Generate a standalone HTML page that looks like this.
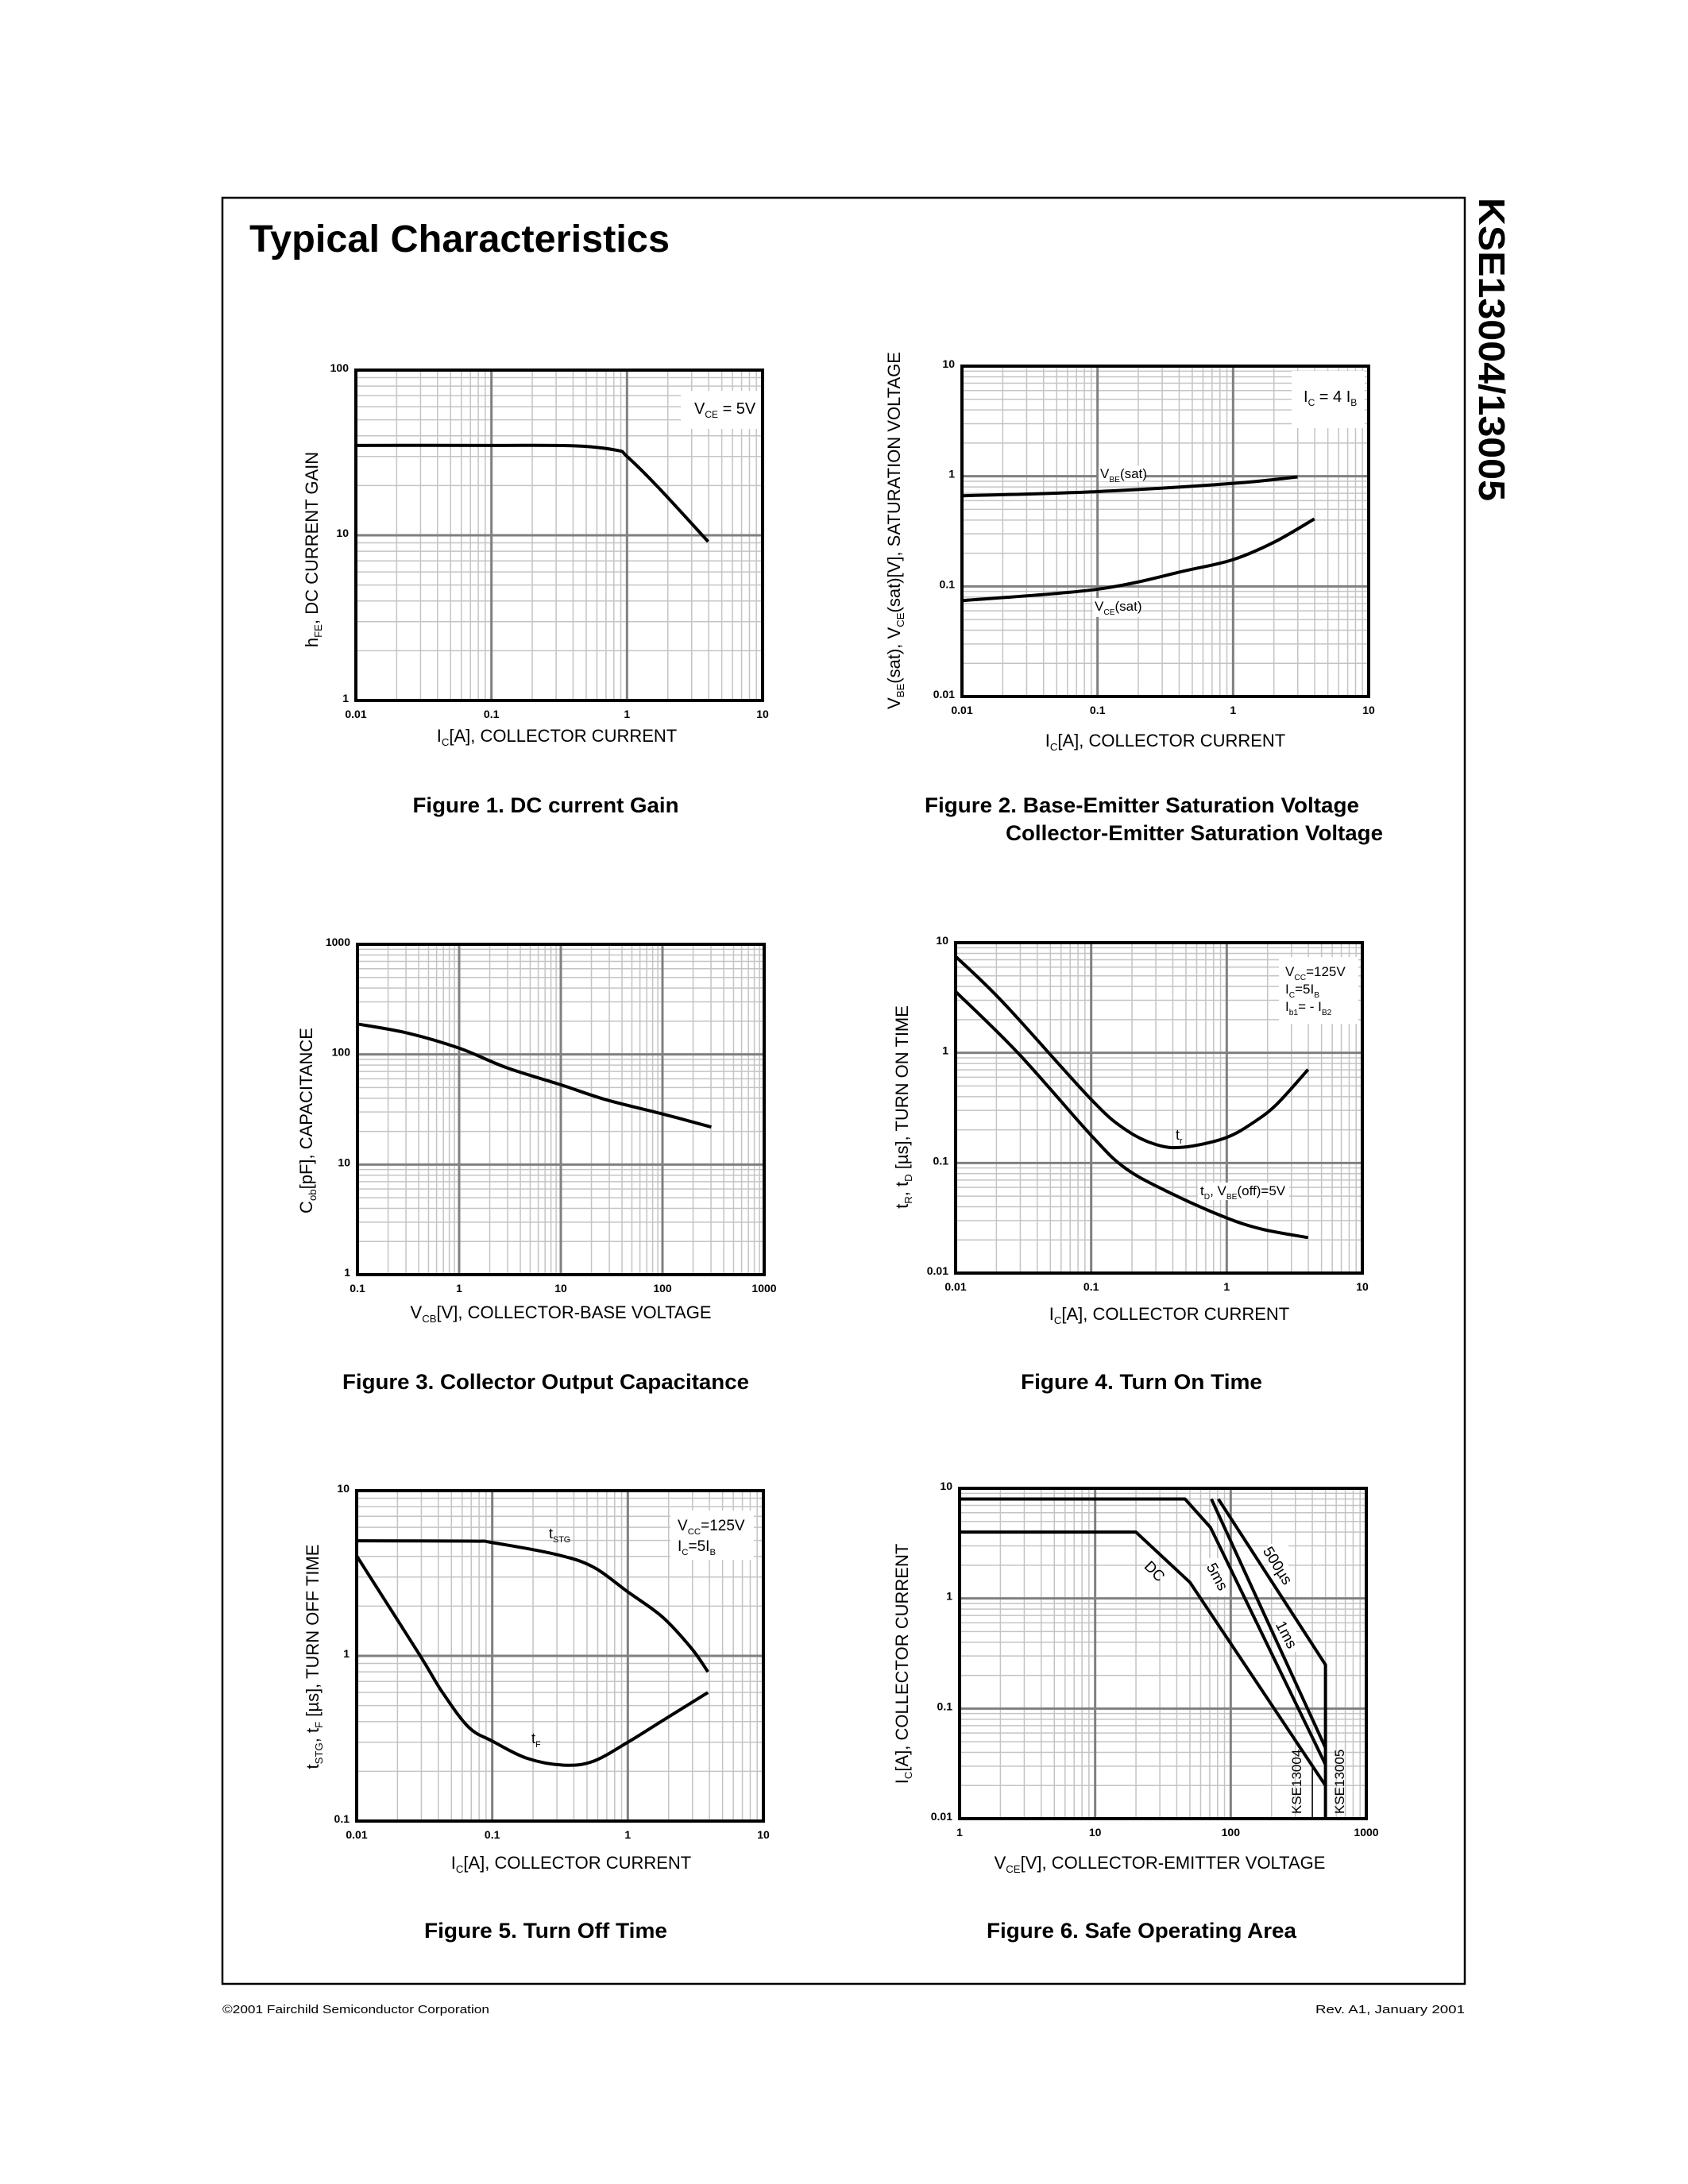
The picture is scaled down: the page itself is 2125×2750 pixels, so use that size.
<!DOCTYPE html>
<html><head><meta charset="utf-8"><style>
html,body{margin:0;padding:0;background:#fff;}
svg{display:block;font-family:"Liberation Sans",sans-serif;}
</style></head><body>
<svg id="page" width="2125" height="2750" viewBox="0 0 2125 2750" xmlns="http://www.w3.org/2000/svg">
<rect x="0" y="0" width="2125" height="2750" fill="#fff"/>
<rect x="280" y="249" width="1564" height="2249" fill="none" stroke="#000" stroke-width="2.5"/>
<text x="314" y="317" font-size="48" font-weight="bold" textLength="529" lengthAdjust="spacingAndGlyphs">Typical Characteristics</text>
<text transform="translate(1862,249) rotate(90)" font-size="46" font-weight="bold" font-family="Liberation Sans, sans-serif" textLength="382" lengthAdjust="spacingAndGlyphs">KSE13004/13005</text>
<text x="280" y="2535" font-size="15" textLength="336" lengthAdjust="spacingAndGlyphs">©2001 Fairchild Semiconductor Corporation</text>
<text x="1844" y="2535" font-size="15" text-anchor="end" textLength="188" lengthAdjust="spacingAndGlyphs">Rev. A1, January 2001</text>
<g id="charts"></g>
</svg>
<script>
// ---------- Chart data ----------
// Fig 1: DC current gain
const f1Ic = [0.01, 0.1, 0.41, 0.84, 1.0, 1.71, 3.97];
const f1Hfe = [35, 35, 34.8, 32.7, 30, 19.4, 9.15];
const f1XTicks = ['0.01','0.1','1','10'];
const f1YTicks = ['1','10','100'];
// Fig 2: saturation voltages
const f2VbeIc = [0.01, 0.1, 1.0, 2.99];
const f2Vbe = [0.665, 0.726, 0.861, 0.986];
const f2VceIc = [0.01, 0.1, 0.46, 1.0, 2.02, 3.98];
const f2Vce = [0.0743, 0.0942, 0.14, 0.175, 0.253, 0.41];
const f2XTicks = ['0.01','0.1','1','10'];
const f2YTicks = ['0.01','0.1','1','10'];
// Fig 3: output capacitance
const f3Vcb = [0.1, 0.314, 1, 2.97, 10, 28, 100, 302];
const f3Cob = [189, 156, 114, 75.4, 53, 38.7, 28.8, 21.9];
const f3XTicks = ['0.1','1','10','100','1000'];
const f3YTicks = ['1','10','100','1000'];
// Fig 4: turn on time
const f4TrIc = [0.01, 0.0225, 0.1, 0.18, 0.3, 0.477, 0.98, 1.63, 2.37, 3.98];
const f4Tr = [7.5, 2.85, 0.377, 0.2, 0.147, 0.139, 0.169, 0.24, 0.347, 0.705];
const f4TdIc = [0.01, 0.029, 0.1, 0.18, 0.388, 0.98, 1.83, 3.98];
const f4Td = [3.6, 0.99, 0.178, 0.089, 0.053, 0.032, 0.025, 0.021];
const f4XTicks = ['0.01','0.1','1','10'];
const f4YTicks = ['0.01','0.1','1','10'];
// Fig 5: turn off time
const f5TstgIc = [0.01, 0.07, 0.1, 0.3, 0.556, 1.0, 1.8, 2.95, 3.9];
const f5Tstg = [4.97, 4.95, 4.85, 4.1, 3.45, 2.44, 1.72, 1.11, 0.8];
const f5TfIc = [0.01, 0.029, 0.043, 0.067, 0.1, 0.18, 0.336, 0.556, 1.0, 1.8, 3.9];
const f5Tf = [4.03, 1.02, 0.6, 0.37, 0.305, 0.24, 0.218, 0.23, 0.30, 0.405, 0.60];
const f5XTicks = ['0.01','0.1','1','10'];
const f5YTicks = ['0.1','1','10'];
// Fig 6: safe operating area
const f6DcV = [1, 20, 50, 500];
const f6DcI = [4, 4, 1.4, 0.02];
const f6Ms5V = [1, 46, 71, 500];
const f6Ms5I = [8, 8, 4.4, 0.031];
const f6Ms1V = [72, 500];
const f6Ms1I = [8, 0.044];
const f6Us500V = [81, 500, 500];
const f6Us500I = [8, 0.25, 0.01];
const f6K4V = [400, 400];
const f6K4I = [0.01, 0.029];
const f6XTicks = ['1','10','100','1000'];
const f6YTicks = ['0.01','0.1','1','10'];

const NS = 'http://www.w3.org/2000/svg';
const root = document.getElementById('charts');
function mk(tag, attrs, parent){
  const e = document.createElementNS(NS, tag);
  for (const k in attrs) e.setAttribute(k, attrs[k]);
  (parent || root).appendChild(e);
  return e;
}
function axes(x0, y0, xlo, xdec, ylo, ydec){
  const W = 512, H = 416;
  return {
    x0, y0, W, H, xlo, xdec, ylo, ydec,
    sx: v => x0 + (Math.log10(v) - xlo) / xdec * W,
    sy: v => y0 + H - (Math.log10(v) - ylo) / ydec * H
  };
}
function drawFrame(a, g, xTicks, yTicks){
  for (let d = 0; d < a.xdec; d++) for (let m = 2; m <= 9; m++){
    const x = a.sx(m * Math.pow(10, a.xlo + d));
    const l = mk('line', {x1:x, x2:x, y1:a.y0, y2:a.y0+a.H, stroke:'#c4c4c4', 'stroke-width':1.5}, g);
    
    
  }
  for (let d = 0; d < a.ydec; d++) for (let m = 2; m <= 9; m++){
    const y = a.sy(m * Math.pow(10, a.ylo + d));
    const l = mk('line', {x1:a.x0, x2:a.x0+a.W, y1:y, y2:y, stroke:'#c4c4c4', 'stroke-width':1.5}, g);
    
    
  }
  for (let d = 1; d < a.xdec; d++){
    const x = a.sx(Math.pow(10, a.xlo + d));
    const l = mk('line', {x1:x, x2:x, y1:a.y0, y2:a.y0+a.H, stroke:'#808080', 'stroke-width':3}, g);
    
    
  }
  for (let d = 1; d < a.ydec; d++){
    const y = a.sy(Math.pow(10, a.ylo + d));
    const l = mk('line', {x1:a.x0, x2:a.x0+a.W, y1:y, y2:y, stroke:'#808080', 'stroke-width':3}, g);
    
    
  }
  xTicks.forEach((t, i) => {
    const e = mk('text', {x:a.x0 + i * a.W / a.xdec, y:a.y0 + a.H + 22, 'font-size':14, 'font-weight':'bold', 'text-anchor':'middle'}, g);
    e.textContent = t;
    
    
  });
  yTicks.forEach((t, i) => {
    const e = mk('text', {x:a.x0 - 9, y:a.y0 + a.H - i * a.H / a.ydec + 2, 'font-size':14, 'font-weight':'bold', 'text-anchor':'end'}, g);
    e.textContent = t;
    
    
  });
}
function border(a, g){
  const r = mk('rect', {x:a.x0, y:a.y0, width:a.W, height:a.H, fill:'none', stroke:'#000', 'stroke-width':4}, g);
  
  
}
function smoothPath(pts){
  let d = 'M' + pts[0][0] + ',' + pts[0][1];
  for (let i = 0; i < pts.length - 1; i++){
    const p0 = pts[Math.max(0, i-1)], p1 = pts[i], p2 = pts[i+1], p3 = pts[Math.min(pts.length-1, i+2)];
    const c1x = p1[0] + (p2[0]-p0[0])/6, c1y = p1[1] + (p2[1]-p0[1])/6;
    const c2x = p2[0] - (p3[0]-p1[0])/6, c2y = p2[1] - (p3[1]-p1[1])/6;
    d += ' C' + c1x + ',' + c1y + ' ' + c2x + ',' + c2y + ' ' + p2[0] + ',' + p2[1];
  }
  return d;
}
function curve(a, g, xs, ys, name, smooth){
  const pts = xs.map((v, i) => [a.sx(v), a.sy(ys[i])]);
  const d = smooth ? smoothPath(pts) : 'M' + pts.map(p => p[0] + ',' + p[1]).join(' L');
  const p = mk('path', {d, fill:'none', stroke:'#000', 'stroke-width':4, 'stroke-linejoin':'round'}, g);
  
  
  return p;
}
function label(g, x, y, html, size, name, extra){
  const e = mk('text', Object.assign({x, y, 'font-size':size}, extra || {}), g);
  e.innerHTML = html;
  
  
  return e;
}
function whiteBox(g, x, y, w, h){
  const r = mk('rect', {x, y, width:w, height:h, fill:'#fff'}, g);
  
  
}
const sub = (t) => '<tspan font-size="0.6em" dy="5">' + t + '</tspan><tspan dy="-5">';
function group(name){
  const g = mk('g', {});
  
  
  return g;
}

// ---------- Figure 1 ----------
{
  const g = group('figure-1-dc-current-gain');
  const a = axes(448, 466, -2, 3, 0, 2);
  drawFrame(a, g, f1XTicks, f1YTicks);
  whiteBox(g, a.x0 + 409, a.y0 + 26, 104, 48);
  label(g, a.x0 + 426, a.y0 + 55, 'V' + sub('CE') + ' = 5V</tspan>', 20, 'legend-vce-condition');
  curve(a, g, f1Ic, f1Hfe, 'hfe-curve', true);
  border(a, g);
  label(g, 701, 934, 'I' + sub('C') + '[A], COLLECTOR CURRENT</tspan>', 22, 'x-axis-title', {'text-anchor':'middle'});
  label(g, 0, 0, 'h' + sub('FE') + ', DC CURRENT GAIN</tspan>', 22, 'y-axis-title', {'text-anchor':'middle', transform:'translate(400,692) rotate(-90)'});
  label(g, 687, 1023, 'Figure 1. DC current Gain', 27, 'figure-1-caption', {'text-anchor':'middle', 'font-weight':'bold', textLength:335, lengthAdjust:'spacingAndGlyphs'});
}
// ---------- Figure 2 ----------
{
  const g = group('figure-2-saturation-voltage');
  const a = axes(1211, 461, -2, 3, -2, 3);
  drawFrame(a, g, f2XTicks, f2YTicks);
  whiteBox(g, a.x0 + 415, a.y0 + 6, 92, 72);
  label(g, a.x0 + 430, a.y0 + 45, 'I' + sub('C') + ' = 4 I</tspan>' + sub('B') + '</tspan>', 20, 'legend-ic-condition');
  whiteBox(g, a.x0 + 172, a.y0 + 125, 58, 20);
  label(g, a.x0 + 174, a.y0 + 141, 'V' + sub('BE') + '(sat)</tspan>', 17, 'vbe-sat-label');
  whiteBox(g, a.x0 + 165, a.y0 + 292, 58, 24);
  label(g, a.x0 + 167, a.y0 + 308, 'V' + sub('CE') + '(sat)</tspan>', 17, 'vce-sat-label');
  curve(a, g, f2VbeIc, f2Vbe, 'vbe-sat-curve', true);
  curve(a, g, f2VceIc, f2Vce, 'vce-sat-curve', true);
  border(a, g);
  label(g, 1467, 940, 'I' + sub('C') + '[A], COLLECTOR CURRENT</tspan>', 22, 'x-axis-title', {'text-anchor':'middle'});
  label(g, 0, 0, 'V' + sub('BE') + '(sat), V</tspan>' + sub('CE') + '(sat)[V], SATURATION VOLTAGE</tspan>', 22, 'y-axis-title', {'text-anchor':'middle', transform:'translate(1133,668) rotate(-90)'});
  label(g, 1164, 1023, 'Figure 2. Base-Emitter Saturation Voltage', 27, 'figure-2-caption-line-1', {'font-weight':'bold', textLength:547, lengthAdjust:'spacingAndGlyphs'});
  label(g, 1266, 1058, 'Collector-Emitter Saturation Voltage', 27, 'figure-2-caption-line-2', {'font-weight':'bold', textLength:475, lengthAdjust:'spacingAndGlyphs'});
}
// ---------- Figure 3 ----------
{
  const g = group('figure-3-output-capacitance');
  const a = axes(450, 1189, -1, 4, 0, 3);
  drawFrame(a, g, f3XTicks, f3YTicks);
  curve(a, g, f3Vcb, f3Cob, 'cob-curve', true);
  border(a, g);
  label(g, 706, 1660, 'V' + sub('CB') + '[V], COLLECTOR-BASE VOLTAGE</tspan>', 22, 'x-axis-title', {'text-anchor':'middle'});
  label(g, 0, 0, 'C' + sub('ob') + '[pF], CAPACITANCE</tspan>', 22, 'y-axis-title', {'text-anchor':'middle', transform:'translate(393,1411) rotate(-90)'});
  label(g, 687, 1749, 'Figure 3. Collector Output Capacitance', 27, 'figure-3-caption', {'text-anchor':'middle', 'font-weight':'bold', textLength:512, lengthAdjust:'spacingAndGlyphs'});
}
// ---------- Figure 4 ----------
{
  const g = group('figure-4-turn-on-time');
  const a = axes(1203, 1187, -2, 3, -2, 3);
  drawFrame(a, g, f4XTicks, f4YTicks);
  whiteBox(g, a.x0 + 407, a.y0 + 18, 100, 84);
  label(g, a.x0 + 415, a.y0 + 42, 'V' + sub('CC') + '=125V</tspan>', 17, 'legend-vcc');
  label(g, a.x0 + 415, a.y0 + 64, 'I' + sub('C') + '=5I</tspan>' + sub('B') + '</tspan>', 17, 'legend-ic-ib');
  label(g, a.x0 + 415, a.y0 + 86, 'I' + sub('b1') + '= - I</tspan>' + sub('B2') + '</tspan>', 17, 'legend-ib1-ib2');
  label(g, a.x0 + 277, a.y0 + 248, 't' + sub('r') + '</tspan>', 18, 'tr-label');
  whiteBox(g, a.x0 + 305, a.y0 + 302, 115, 22);
  label(g, a.x0 + 308, a.y0 + 318, 't' + sub('D') + ', V</tspan>' + sub('BE') + '(off)=5V</tspan>', 17, 'td-label');
  curve(a, g, f4TrIc, f4Tr, 'tr-curve', true);
  curve(a, g, f4TdIc, f4Td, 'td-curve', true);
  border(a, g);
  label(g, 1472, 1662, 'I' + sub('C') + '[A], COLLECTOR CURRENT</tspan>', 22, 'x-axis-title', {'text-anchor':'middle'});
  label(g, 0, 0, 't' + sub('R') + ', t</tspan>' + sub('D') + ' [µs], TURN ON TIME</tspan>', 22, 'y-axis-title', {'text-anchor':'middle', transform:'translate(1143,1394) rotate(-90)'});
  label(g, 1437, 1749, 'Figure 4. Turn On Time', 27, 'figure-4-caption', {'text-anchor':'middle', 'font-weight':'bold', textLength:304, lengthAdjust:'spacingAndGlyphs'});
}
// ---------- Figure 5 ----------
{
  const g = group('figure-5-turn-off-time');
  const a = axes(449, 1877, -2, 3, -1, 2);
  drawFrame(a, g, f5XTicks, f5YTicks);
  whiteBox(g, a.x0 + 395, a.y0 + 25, 105, 62);
  label(g, a.x0 + 404, a.y0 + 50, 'V' + sub('CC') + '=125V</tspan>', 19, 'legend-vcc');
  label(g, a.x0 + 404, a.y0 + 76, 'I' + sub('C') + '=5I</tspan>' + sub('B') + '</tspan>', 19, 'legend-ic-ib');
  label(g, a.x0 + 242, a.y0 + 60, 't' + sub('STG') + '</tspan>', 18, 'tstg-label');
  label(g, a.x0 + 220, a.y0 + 318, 't' + sub('F') + '</tspan>', 18, 'tf-label');
  curve(a, g, f5TstgIc, f5Tstg, 'tstg-curve', true);
  curve(a, g, f5TfIc, f5Tf, 'tf-curve', true);
  border(a, g);
  label(g, 719, 2353, 'I' + sub('C') + '[A], COLLECTOR CURRENT</tspan>', 22, 'x-axis-title', {'text-anchor':'middle'});
  label(g, 0, 0, 't' + sub('STG') + ', t</tspan>' + sub('F') + ' [µs], TURN OFF TIME</tspan>', 22, 'y-axis-title', {'text-anchor':'middle', transform:'translate(401,2086) rotate(-90)'});
  label(g, 687, 2440, 'Figure 5. Turn Off Time', 27, 'figure-5-caption', {'text-anchor':'middle', 'font-weight':'bold', textLength:306, lengthAdjust:'spacingAndGlyphs'});
}
// ---------- Figure 6 ----------
{
  const g = group('figure-6-safe-operating-area');
  const a = axes(1208, 1874, 0, 3, -2, 3);
  drawFrame(a, g, f6XTicks, f6YTicks);
  whiteBox(g, a.x0 + 312, a.y0 + 88, 24, 48);
  whiteBox(g, a.x0 + 388, a.y0 + 70, 26, 56);
  whiteBox(g, a.x0 + 398, a.y0 + 164, 26, 42);
  curve(a, g, f6DcV, f6DcI, 'dc-soa-line', false);
  curve(a, g, f6Ms5V, f6Ms5I, 'soa-5ms-line', false);
  curve(a, g, f6Ms1V, f6Ms1I, 'soa-1ms-line', false);
  curve(a, g, f6Us500V, f6Us500I, 'soa-500us-line', false);
  const k4 = curve(a, g, f6K4V, f6K4I, 'kse13004-limit-line', false);
  k4.setAttribute('stroke-width', 1.5);
  label(g, 0, 0, 'DC', 19, 'dc-label', {'text-anchor':'middle', transform:'translate(' + (a.x0 + 246) + ',' + (a.y0 + 104) + ') rotate(45) translate(0,7)'});
  label(g, 0, 0, '5ms', 19, '5ms-label', {'text-anchor':'middle', transform:'translate(' + (a.x0 + 325) + ',' + (a.y0 + 111) + ') rotate(62) translate(0,7)'});
  label(g, 0, 0, '1ms', 19, '1ms-label', {'text-anchor':'middle', transform:'translate(' + (a.x0 + 412) + ',' + (a.y0 + 184) + ') rotate(62) translate(0,7)'});
  label(g, 0, 0, '500µs', 19, '500us-label', {'text-anchor':'middle', transform:'translate(' + (a.x0 + 401) + ',' + (a.y0 + 97) + ') rotate(58) translate(0,7)'});
  label(g, 0, 0, 'KSE13004', 17, 'kse13004-label', {transform:'translate(' + (a.x0 + 430) + ',' + (a.y0 + 410) + ') rotate(-90)'});
  label(g, 0, 0, 'KSE13005', 17, 'kse13005-label', {transform:'translate(' + (a.x0 + 484) + ',' + (a.y0 + 410) + ') rotate(-90)'});
  border(a, g);
  label(g, 1460, 2353, 'V' + sub('CE') + '[V], COLLECTOR-EMITTER VOLTAGE</tspan>', 22, 'x-axis-title', {'text-anchor':'middle'});
  label(g, 0, 0, 'I' + sub('C') + '[A], COLLECTOR CURRENT</tspan>', 22, 'y-axis-title', {'text-anchor':'middle', transform:'translate(1143,2095) rotate(-90)'});
  label(g, 1437, 2440, 'Figure 6. Safe Operating Area', 27, 'figure-6-caption', {'text-anchor':'middle', 'font-weight':'bold', textLength:390, lengthAdjust:'spacingAndGlyphs'});
}
</script>
</body></html>
